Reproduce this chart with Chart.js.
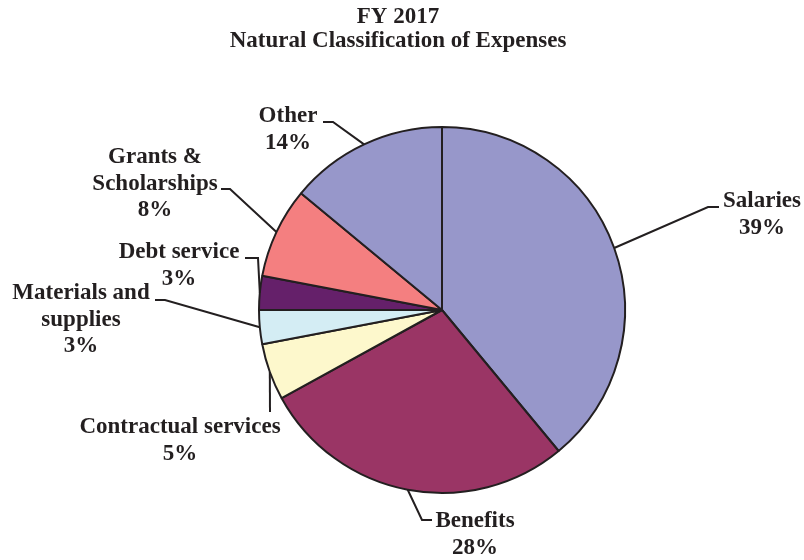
<!DOCTYPE html>
<html>
<head>
<meta charset="utf-8">
<script src="https://cdn.jsdelivr.net/npm/chart.js@4/dist/chart.umd.min.js"></script>
<style>
  html, body { margin: 0; padding: 0; background: #fff; }
  #wrap { width: 804px; height: 560px; }
</style>
</head>
<body>
<div id="wrap"><canvas id="pie" width="804" height="560"></canvas></div>
<script>
// data, clockwise from 12 o'clock
var categories = ['Salaries', 'Benefits', 'Contractual services', 'Materials and supplies', 'Debt service', 'Grants & Scholarships', 'Other'];
var shares = [39, 28, 5, 3, 3, 8, 14];
var labelLines = [
  ['Salaries'], ['Benefits'], ['Contractual services'], ['Materials and', 'supplies'],
  ['Debt service'], ['Grants &', 'Scholarships'], ['Other']
];
var sliceColors = ['#9797ca', '#9a3565', '#fdf8cc', '#d4edf4', '#65206a', '#f47f80', '#9797ca'];
var titleLines = ['FY 2017', 'Natural Classification of Expenses'];

var ink = '#231f20';
var serif = '"Liberation Serif", "Times New Roman", serif';

// where each callout sits: text centre x, first baseline, elbow and line end
var calloutLayout = [
  { cx: 762, y: 207, elbow: [708, 207], end: [719, 207] },
  { cx: 475, y: 527, elbow: [422, 520], end: [432, 520] },
  { cx: 180, y: 433, elbow: [270, 412], end: [270, 412] },
  { cx: 81,  y: 299, elbow: [165, 300], end: [155, 300] },
  { cx: 179, y: 258, elbow: [258, 258], end: [245, 258] },
  { cx: 155, y: 163, elbow: [230, 189], end: [221, 189] },
  { cx: 288, y: 122, elbow: [333, 122], end: [323, 122] }
];

var calloutPlugin = {
  id: 'callouts',
  afterDraw: function(chart) {
    var ctx = chart.ctx;
    var arcs = chart.getDatasetMeta(0).data;
    ctx.save();
    // title
    ctx.fillStyle = ink;
    ctx.textAlign = 'center';
    ctx.textBaseline = 'alphabetic';
    ctx.font = 'bold 23px ' + serif;
    ctx.fillText(titleLines[0], 398, 23);
    ctx.fillText(titleLines[1], 398, 47);

    ctx.font = 'bold 23px ' + serif;
    ctx.strokeStyle = ink;
    ctx.lineWidth = 2;
    arcs.forEach(function(arc, i) {
      var p = arc.getProps(['x', 'y', 'startAngle', 'endAngle', 'outerRadius'], true);
      var mid = (p.startAngle + p.endAngle) / 2;
      var ax = p.x + Math.cos(mid) * p.outerRadius;
      var ay = p.y + Math.sin(mid) * p.outerRadius;
      var lay = calloutLayout[i];
      ctx.beginPath();
      ctx.moveTo(ax, ay);
      ctx.lineTo(lay.elbow[0], lay.elbow[1]);
      ctx.lineTo(lay.end[0], lay.end[1]);
      ctx.stroke();
      var lines = labelLines[i].concat([shares[i] + '%']);
      lines.forEach(function(t, k) {
        ctx.fillText(t, lay.cx, lay.y + k * 26.5);
      });
    });
    ctx.restore();
  }
};

var config = {
  type: 'pie',
  data: {
    labels: categories,
    datasets: [{
      data: shares,
      backgroundColor: sliceColors,
      borderColor: ink,
      borderWidth: 2
    }]
  },
  options: {
    responsive: false,
    animation: false,
    radius: 183,
    layout: { padding: { left: 80, right: 0, top: 60, bottom: 0 } },
    plugins: {
      legend: { display: false },
      tooltip: { enabled: false },
      title: { display: false }
    }
  },
  plugins: [calloutPlugin]
};

var pie = new Chart(document.getElementById('pie'), config);
</script>
</body>
</html>
